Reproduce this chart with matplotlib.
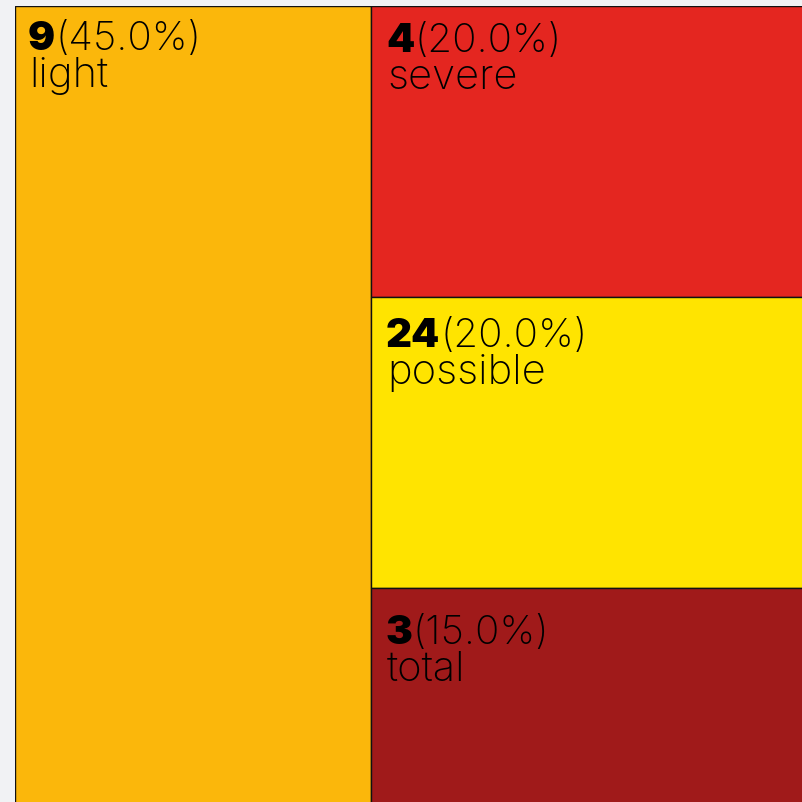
import matplotlib
matplotlib.use("Agg")
import matplotlib.pyplot as plt
from matplotlib.patches import Rectangle

labels = ["light", "severe", "possible", "total"]
values = [9, 4, 24, 3]
shares = [45.0, 20.0, 20.0, 15.0]
colors = ["#FBB70B", "#E42620", "#FFE400", "#A01A1A"]

# text placement (pixels below each tile's top edge, right of its left edge)
num_dy = [43, 45, 49, 55]
lab_gap = 37
pad_x = [13, 15, 15, 15]

W, H = 803, 803
fig = plt.figure(figsize=(W / 100, H / 100), dpi=100, facecolor="#F1F2F4")
ax = fig.add_axes([15 / W, -4 / H, 791 / W, 800 / H])
ax.set_xlim(0, 100)
ax.set_ylim(0, 100)
ax.axis("off")

# layout: first item as left column, rest stacked in right column
total = sum(shares)
rects = []
w0 = shares[0] / total * 100
rects.append((0, 0, w0, 100))
rest = sum(shares[1:])
ytop = 100
for s in shares[1:]:
    h = s / rest * 100
    rects.append((w0, ytop - h, 100 - w0, h))
    ytop -= h

FONT = ["Inter", "DejaVu Sans"]
for i, ((x, y, w, h), lab, val, sh, col) in enumerate(zip(rects, labels, values, shares, colors)):
    ax.add_patch(Rectangle((x, y), w, h, facecolor=col, edgecolor="#111111", linewidth=1.0))
    t1 = ax.annotate(str(val), xy=(x, y + h), xytext=(pad_x[i], -num_dy[i]), textcoords="offset pixels",
                     fontsize=29, fontweight="black", family=FONT, color="black",
                     ha="left", va="baseline")
    ax.annotate(f"({sh:.1f}%)", xy=(1, 0), xycoords=t1, xytext=(0, 0), textcoords="offset pixels",
                fontsize=29, fontweight="light", family=FONT, color="black",
                ha="left", va="bottom")
    ax.annotate(lab, xy=(x, y + h), xytext=(pad_x[i] + 1, -(num_dy[i] + lab_gap)), textcoords="offset pixels",
                fontsize=30, fontweight="light", family=FONT, color="black",
                ha="left", va="baseline")

fig.savefig("out.png", dpi=100, facecolor=fig.get_facecolor())
